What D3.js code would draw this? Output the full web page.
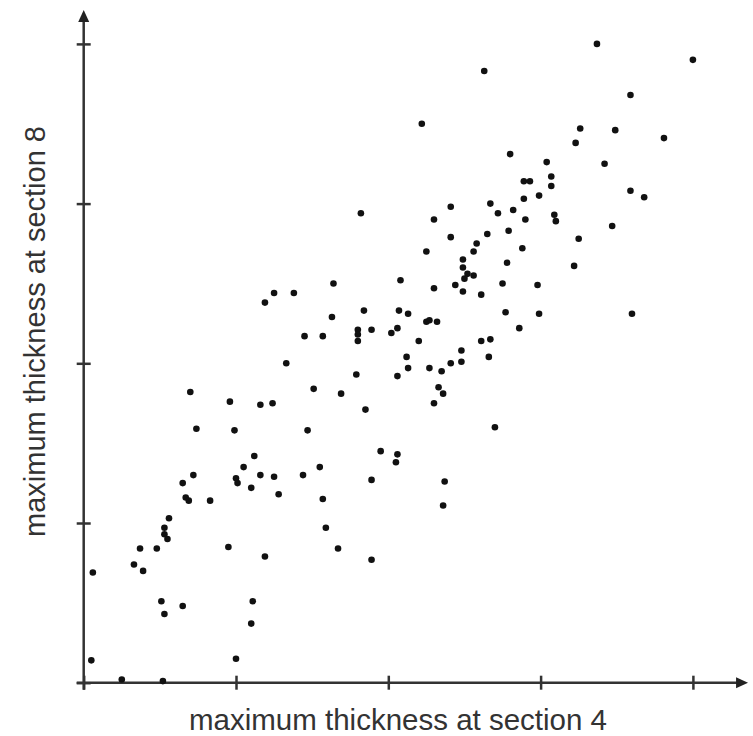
<!DOCTYPE html>
<html>
<head>
<meta charset="utf-8">
<script src="https://cdn.jsdelivr.net/npm/d3@7"></script>
<style>
  html, body { margin: 0; padding: 0; background: #fff; }
  svg { display: block; }
</style>
</head>
<body>
<div id="chart"></div>
<script>
// Data (tick spacing = 1 unit)
const section4 = [
  3.37,4.00,2.63,3.59,2.22,3.26,3.49,3.81,3.23,2.80,
  3.04,3.42,2.89,2.93,3.07,3.07,3.59,3.68,2.89,2.99,
  2.90,3.09,3.10,3.47,3.25,1.82,2.41,2.67,2.72,2.82,
  2.30,2.41,2.65,2.79,2.58,2.56,2.88,2.25,2.49,2.49,
  2.78,2.52,2.56,2.50,1.64,2.08,2.30,2.44,2.49,2.75,
  2.61,2.77,2.86,1.84,1.63,2.07,2.13,1.89,1.80,1.80,
  1.80,1.45,1.57,2.02,2.06,2.25,2.27,2.32,2.20,2.61,
  2.67,2.48,2.48,2.41,2.35,2.27,2.12,2.13,2.06,2.66,
  1.79,1.51,1.69,1.85,2.33,2.36,2.30,2.70,1.47,1.95,
  2.06,2.05,1.55,3.22,2.98,2.99,3.60,1.25,1.19,1.38,
  1.33,0.70,0.96,1.16,1.24,0.74,0.99,1.12,1.05,1.00,
  1.01,1.16,1.25,1.44,1.10,1.28,0.65,0.72,0.67,0.69,
  0.83,0.56,0.53,0.53,0.55,0.37,0.48,0.33,0.39,0.06,
  0.95,1.19,0.51,0.53,0.65,1.11,1.10,0.05,1.00,0.25,
  0.52,1.89,2.37,1.57,2.36,1.59,1.67,1.89
];
const section8 = [
  4.00,3.90,3.83,3.68,3.50,3.47,3.46,3.41,3.38,3.31,
  3.26,3.25,3.14,3.14,3.17,3.11,3.08,3.04,3.03,3.05,
  2.90,2.93,2.89,2.86,2.78,2.94,2.98,3.00,2.94,2.96,
  2.90,2.79,2.81,2.83,2.75,2.70,2.72,2.70,2.65,2.60,
  2.63,2.56,2.55,2.53,2.50,2.52,2.47,2.49,2.45,2.50,
  2.43,2.32,2.22,2.33,2.29,2.33,2.31,2.21,2.21,2.18,
  2.14,2.17,2.17,2.19,2.22,2.26,2.27,2.26,2.14,2.14,
  2.15,2.08,2.01,2.00,1.95,1.97,2.04,1.97,1.92,2.04,
  1.93,1.84,1.81,1.71,1.85,1.81,1.75,1.60,1.58,1.45,
  1.43,1.38,1.35,2.61,2.49,2.31,2.31,2.44,2.38,2.44,
  2.00,1.82,1.76,1.74,1.75,1.59,1.58,1.42,1.35,1.28,
  1.25,1.30,1.29,1.30,1.22,1.18,1.25,1.30,1.16,1.14,
  1.14,1.03,0.97,0.93,0.90,0.84,0.84,0.74,0.70,0.69,
  0.85,0.79,0.51,0.43,0.48,0.51,0.37,0.14,0.15,0.02,
  0.01,1.27,1.26,1.15,1.11,0.97,0.84,0.77
];
const xTicks = [0, 1, 2, 3, 4];
const yTicks = [0, 1, 2, 3, 4];
const xLabel = "maximum thickness at section 4";
const yLabel = "maximum thickness at section 8";

const W = 753, H = 736;
const points = section4.map((v, i) => ({ x: v, y: section8[i] }));

const svg = d3.select("#chart").append("svg")
  .attr("width", W).attr("height", H);

const x = d3.scaleLinear().domain([0, 4]).range([83.7, 692.9]);
const y = d3.scaleLinear().domain([0, 4]).range([682.7, 43.9]);

const axisColor = "#333";
const tickHalf = 7;

// x axis ticks (both sides of the line)
const gx = svg.append("g")
  .attr("transform", `translate(0,${y(0) - tickHalf})`)
  .call(d3.axisBottom(x).tickValues(xTicks).tickSize(tickHalf * 2).tickFormat(""));
gx.select(".domain").remove();
gx.selectAll(".tick line").attr("stroke", axisColor).attr("stroke-width", 2.5);

// y axis ticks
const gy = svg.append("g")
  .attr("transform", `translate(${x(0) + tickHalf},0)`)
  .call(d3.axisLeft(y).tickValues(yTicks).tickSize(tickHalf * 2).tickFormat(""));
gy.select(".domain").remove();
gy.selectAll(".tick line").attr("stroke", axisColor).attr("stroke-width", 2.5);

// axis lines with arrowheads
const xEnd = x(4.362), yEnd = y(4.212);
svg.append("line")
  .attr("x1", x(0) - tickHalf).attr("y1", y(0))
  .attr("x2", xEnd - 10).attr("y2", y(0))
  .attr("stroke", axisColor).attr("stroke-width", 2.5);
svg.append("path")
  .attr("d", `M${xEnd},${y(0)} L${xEnd - 12},${y(0) - 5.5} L${xEnd - 12},${y(0) + 5.5} Z`)
  .attr("fill", "#222");
svg.append("line")
  .attr("x1", x(0)).attr("y1", y(0) + tickHalf)
  .attr("x2", x(0)).attr("y2", yEnd + 10)
  .attr("stroke", axisColor).attr("stroke-width", 2.5);
svg.append("path")
  .attr("d", `M${x(0)},${yEnd} L${x(0) - 5.5},${yEnd + 12} L${x(0) + 5.5},${yEnd + 12} Z`)
  .attr("fill", "#222");

// points
svg.append("g").selectAll("circle")
  .data(points).join("circle")
  .attr("cx", d => x(d.x))
  .attr("cy", d => y(d.y))
  .attr("r", 3.3)
  .attr("fill", "#111");

// labels
svg.append("text")
  .attr("x", 398).attr("y", 729.5)
  .attr("text-anchor", "middle")
  .attr("font-family", "'Liberation Sans', Arial, Helvetica, sans-serif")
  .attr("font-size", 29.5)
  .attr("fill", "#333")
  .text(xLabel);

svg.append("text")
  .attr("transform", "translate(45,331.5) rotate(-90)")
  .attr("text-anchor", "middle")
  .attr("font-family", "'Liberation Sans', Arial, Helvetica, sans-serif")
  .attr("font-size", 29)
  .attr("fill", "#333")
  .text(yLabel);
</script>
</body>
</html>
